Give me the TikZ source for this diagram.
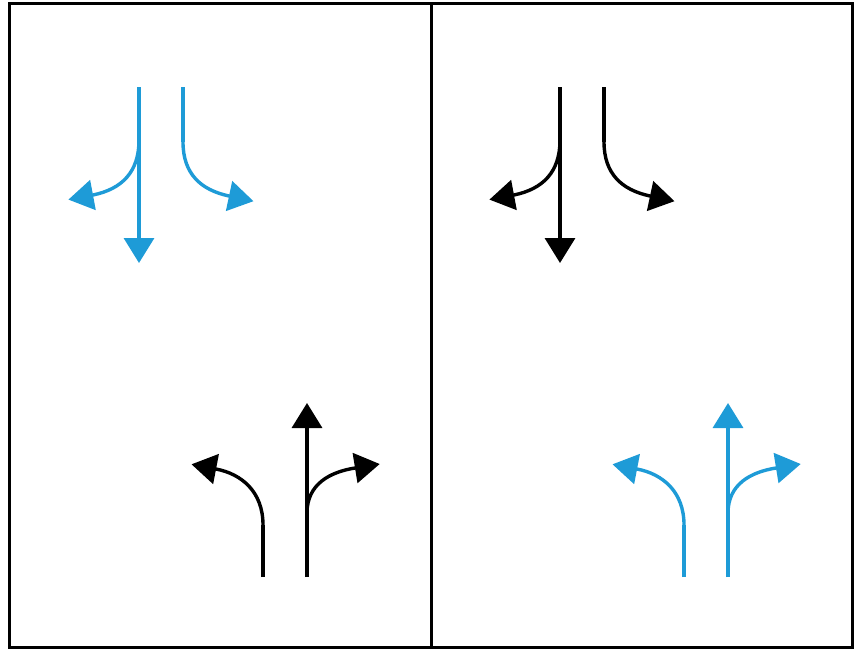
\documentclass[tikz,border=0pt]{standalone}
\usepackage{tikz}
\usetikzlibrary{arrows.meta}
\definecolor{Lane}{RGB}{30,155,215}

\begin{document}
\begin{tikzpicture}[
  x=1pt, y=-1pt,
  frame/.style={draw=black, line width=3pt},
  way/.style={line width=3.4pt, -{Triangle[length=25pt,width=30pt]}},
  stem/.style={line width=3.4pt}
]
\useasboundingbox (0,0) rectangle (858,656);

\draw[frame] (9,3) rectangle (852,647);
\draw[frame] (431,3) -- (431,647);

\foreach \dx/\down/\up in {0/Lane/black, 421/black/Lane}
{
  % lanes coming in from the top
  \begin{scope}[xshift=\dx, color=\down]
    \coordinate (inL) at (139,87);
    \coordinate (inR) at (183,87);
    \coordinate (bendL) at (139,140);
    \coordinate (bendR) at (183,142);
    \draw[way] (inL) -- (139,263);
    \draw[way] (bendL) .. controls (139,172) and (122,189) .. (93,195) -- (68.4,199.6);
    \draw[stem] (inR) -- (bendR);
    \draw[way] (bendR) .. controls (183,174) and (201,190) .. (229,196) -- (253.5,201.2);
  \end{scope}
  % lanes going out at the bottom
  \begin{scope}[xshift=\dx, color=\up]
    \coordinate (outL) at (263,577);
    \coordinate (outR) at (307,577);
    \coordinate (turnL) at (263,525);
    \coordinate (turnR) at (307,513);
    \draw[way] (outR) -- (307,403);
    \draw[stem] (outL) -- (turnL);
    \draw[way] (turnL) .. controls (263,492) and (242,474) .. (216,469) -- (191.5,464.3);
    \draw[way] (turnR) .. controls (307,484) and (330,472) .. (355,468) -- (379.7,464);
  \end{scope}
}
\end{tikzpicture}
\end{document}
